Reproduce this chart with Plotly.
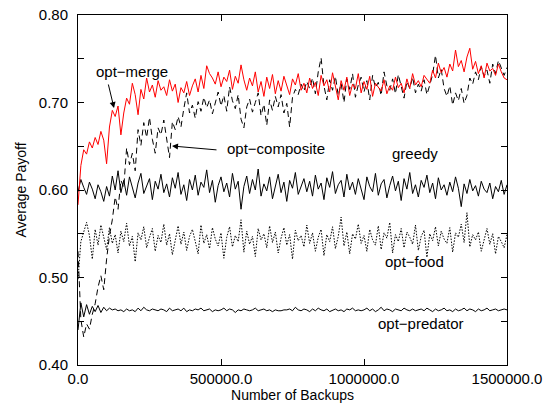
import plotly.graph_objects as go

# x positions: one sample every 10000 backups
backups = list(range(0, 1500001, 10000))

opt_merge = [
    0.583, 0.628, 0.646, 0.641, 0.655, 0.648, 0.660, 0.652, 0.667, 0.657,
    0.630, 0.672, 0.691, 0.684, 0.696, 0.663, 0.688, 0.705, 0.698, 0.722,
    0.709, 0.686, 0.715, 0.704, 0.728, 0.712, 0.720, 0.706, 0.725, 0.714,
    0.718, 0.708, 0.726, 0.713, 0.721, 0.700, 0.717, 0.711, 0.724, 0.708,
    0.719, 0.727, 0.712, 0.731, 0.716, 0.742, 0.733, 0.728, 0.721, 0.735,
    0.718, 0.729, 0.724, 0.737, 0.715, 0.730, 0.722, 0.743, 0.726, 0.714,
    0.728, 0.719, 0.735, 0.712, 0.724, 0.707, 0.729, 0.716, 0.732, 0.710,
    0.725, 0.713, 0.730, 0.718, 0.709, 0.727, 0.720, 0.733, 0.714, 0.722,
    0.711, 0.728, 0.716, 0.723, 0.708, 0.731, 0.719, 0.726, 0.712, 0.734,
    0.717, 0.703, 0.725, 0.714, 0.729, 0.708, 0.721, 0.716, 0.733, 0.711,
    0.724, 0.715, 0.730, 0.707, 0.722, 0.718, 0.713, 0.726, 0.710, 0.719,
    0.714, 0.729, 0.717, 0.722, 0.711, 0.727, 0.716, 0.733, 0.720, 0.725,
    0.718, 0.731, 0.726, 0.722, 0.737, 0.728, 0.745, 0.734, 0.740, 0.729,
    0.744, 0.736, 0.760, 0.741, 0.748, 0.735, 0.752, 0.762, 0.738, 0.747,
    0.733, 0.742, 0.728, 0.745, 0.736, 0.739, 0.731, 0.744, 0.735, 0.728,
    0.726,
]

opt_composite = [
    0.530, 0.452, 0.432, 0.447, 0.441, 0.458, 0.470, 0.489, 0.502, 0.486,
    0.521, 0.548, 0.566, 0.592, 0.578, 0.611, 0.603, 0.648, 0.629, 0.642,
    0.622, 0.669, 0.651, 0.677, 0.660, 0.683, 0.658, 0.642, 0.671, 0.663,
    0.680, 0.657, 0.637, 0.678, 0.669, 0.684, 0.672, 0.693, 0.711, 0.688,
    0.697, 0.682, 0.701, 0.690, 0.706, 0.694, 0.703, 0.687, 0.699, 0.712,
    0.696, 0.708, 0.690, 0.718, 0.702, 0.693, 0.709, 0.681, 0.671, 0.695,
    0.704, 0.689, 0.700, 0.711, 0.685, 0.698, 0.674, 0.703, 0.691, 0.707,
    0.695, 0.709, 0.688, 0.699, 0.672, 0.706, 0.715, 0.709, 0.721, 0.713,
    0.724, 0.716, 0.728, 0.710, 0.735, 0.751, 0.719, 0.703, 0.726, 0.714,
    0.730, 0.708, 0.722, 0.700, 0.727, 0.715, 0.733, 0.706, 0.720, 0.729,
    0.712, 0.725, 0.703, 0.731, 0.717, 0.723, 0.708, 0.735, 0.719, 0.714,
    0.727, 0.710, 0.732, 0.718, 0.705, 0.724, 0.716, 0.729, 0.711, 0.721,
    0.713, 0.726, 0.709, 0.720, 0.732, 0.754, 0.728, 0.738, 0.716, 0.707,
    0.719, 0.697, 0.711, 0.702, 0.716, 0.699, 0.708, 0.728, 0.721, 0.735,
    0.726, 0.741, 0.730, 0.737, 0.722, 0.744, 0.733, 0.748, 0.739, 0.731,
    0.740,
]

greedy = [
    0.598, 0.612, 0.603, 0.595, 0.609, 0.601, 0.590, 0.606, 0.598, 0.587,
    0.604, 0.593, 0.616, 0.600, 0.622, 0.597, 0.611, 0.594, 0.615, 0.603,
    0.591, 0.608, 0.619, 0.596, 0.605, 0.613, 0.589, 0.610, 0.601, 0.618,
    0.597, 0.607, 0.592, 0.614, 0.602, 0.620, 0.595, 0.606, 0.588, 0.612,
    0.600, 0.617, 0.594, 0.609, 0.603, 0.623, 0.597, 0.611, 0.586, 0.605,
    0.615, 0.598, 0.608, 0.592, 0.619, 0.601, 0.610, 0.578, 0.604, 0.616,
    0.596, 0.612, 0.600, 0.624, 0.593, 0.607, 0.599, 0.615, 0.590, 0.606,
    0.618, 0.597, 0.609, 0.587, 0.611, 0.602, 0.620, 0.595, 0.605, 0.613,
    0.598, 0.610, 0.593, 0.617, 0.601, 0.608, 0.589, 0.614, 0.603, 0.621,
    0.596, 0.606, 0.611, 0.592, 0.618, 0.600, 0.609, 0.595, 0.613, 0.602,
    0.589, 0.615, 0.604, 0.598, 0.619, 0.594, 0.607, 0.612, 0.591, 0.605,
    0.616, 0.599, 0.610, 0.588, 0.613, 0.601, 0.620, 0.596, 0.606, 0.592,
    0.611, 0.603, 0.617, 0.597, 0.608, 0.590, 0.614, 0.600, 0.606, 0.594,
    0.609, 0.598, 0.615, 0.602, 0.581, 0.607, 0.596, 0.612, 0.599, 0.605,
    0.593, 0.610, 0.601, 0.597, 0.608, 0.590, 0.604, 0.598, 0.611, 0.595,
    0.606,
]

opt_food = [
    0.498, 0.541, 0.552, 0.563, 0.548, 0.521, 0.555, 0.537, 0.560, 0.544,
    0.532, 0.557, 0.539, 0.549, 0.528, 0.553, 0.541, 0.562, 0.536, 0.547,
    0.518, 0.551, 0.543, 0.558, 0.534, 0.546, 0.556, 0.530, 0.548, 0.540,
    0.561, 0.537, 0.550, 0.526, 0.545, 0.559, 0.538, 0.552, 0.531, 0.547,
    0.555, 0.542, 0.527, 0.560, 0.539, 0.549, 0.533, 0.557, 0.544, 0.536,
    0.551, 0.522, 0.546, 0.558, 0.535, 0.548, 0.541, 0.566, 0.529, 0.553,
    0.538, 0.547, 0.524, 0.556, 0.543, 0.550, 0.534, 0.559, 0.540, 0.552,
    0.528, 0.545, 0.557, 0.537, 0.549, 0.521, 0.554, 0.542, 0.548, 0.535,
    0.560, 0.539, 0.551, 0.530, 0.546, 0.555, 0.525, 0.549, 0.541, 0.558,
    0.533, 0.547, 0.569, 0.536, 0.552, 0.527, 0.550, 0.544, 0.561, 0.539,
    0.548, 0.530, 0.555, 0.543, 0.537, 0.559, 0.532, 0.551, 0.545, 0.563,
    0.528, 0.549, 0.541, 0.556, 0.534, 0.552, 0.546, 0.538, 0.560, 0.531,
    0.547, 0.554, 0.523, 0.550, 0.542, 0.558, 0.536, 0.553, 0.544, 0.539,
    0.557, 0.529, 0.551, 0.546, 0.561, 0.540, 0.574, 0.535, 0.549, 0.543,
    0.552, 0.530, 0.545, 0.556, 0.538, 0.550, 0.527, 0.547, 0.541, 0.534,
    0.549,
]

opt_predator = [
    0.440, 0.471, 0.455, 0.469, 0.458, 0.467, 0.461, 0.468, 0.460, 0.466,
    0.462, 0.465, 0.463, 0.464, 0.462, 0.463, 0.461, 0.464, 0.462, 0.463,
    0.461, 0.465, 0.462, 0.466, 0.463, 0.462, 0.464, 0.463, 0.462, 0.464,
    0.463, 0.461, 0.465, 0.462, 0.463, 0.464, 0.462, 0.465, 0.461, 0.463,
    0.462, 0.464, 0.463, 0.465, 0.462, 0.463, 0.464, 0.461, 0.463, 0.462,
    0.463, 0.465, 0.462, 0.464, 0.463, 0.460, 0.463, 0.462, 0.464, 0.463,
    0.462, 0.463, 0.465, 0.462, 0.463, 0.464, 0.462, 0.463, 0.461, 0.463,
    0.462, 0.462, 0.463, 0.463, 0.464, 0.462, 0.466, 0.463, 0.462, 0.464,
    0.463, 0.461, 0.464, 0.462, 0.465, 0.463, 0.462, 0.464, 0.461, 0.463,
    0.464, 0.462, 0.463, 0.461, 0.464, 0.463, 0.465, 0.462, 0.463, 0.462,
    0.463, 0.465, 0.462, 0.464, 0.461, 0.463, 0.466, 0.462, 0.464, 0.463,
    0.461, 0.464, 0.463, 0.462, 0.465, 0.463, 0.462, 0.464, 0.462, 0.463,
    0.464, 0.462, 0.465, 0.463, 0.461, 0.464, 0.462, 0.463, 0.465, 0.462,
    0.463, 0.461, 0.464, 0.462, 0.463, 0.465, 0.462, 0.464, 0.463, 0.461,
    0.464, 0.462, 0.463, 0.465, 0.462, 0.463, 0.464, 0.462, 0.463, 0.464,
    0.463,
]

x_ticks = [0, 500000, 1000000, 1500000]
x_tick_text = ["0.0", "500000.0", "1000000.0", "1500000.0"]

FONT = "Liberation Sans, Arial, Helvetica, sans-serif"

fig = go.Figure()
fig.add_trace(go.Scatter(x=backups, y=greedy, mode="lines", name="greedy",
                         line=dict(color="black", width=1)))
fig.add_trace(go.Scatter(x=backups, y=opt_food, mode="lines", name="opt-food",
                         line=dict(color="black", width=1, dash="1.5px,1.5px")))
fig.add_trace(go.Scatter(x=backups, y=opt_predator, mode="lines", name="opt-predator",
                         line=dict(color="black", width=1)))
fig.add_trace(go.Scatter(x=backups, y=opt_composite, mode="lines", name="opt-composite",
                         line=dict(color="black", width=1, dash="6px,4px")))
fig.add_trace(go.Scatter(x=backups, y=opt_merge, mode="lines", name="opt-merge",
                         line=dict(color="red", width=1)))

# curve labels
labels = [
    ("opt−merge", 188800, 0.736),
    ("opt−composite", 692300, 0.648),
    ("greedy", 1180000, 0.642),
    ("opt−food", 1175000, 0.518),
    ("opt−predator", 1198000, 0.447),
]
for txt, lx, ly in labels:
    fig.add_annotation(x=lx, y=ly, text=txt, showarrow=False,
                       xanchor="center", yanchor="middle",
                       font=dict(family=FONT, size=15, color="black"))

# arrows pointing to curves
arrows = [
    (125900, 0.6937, 104900, 0.7223),
    (328700, 0.6503, 489500, 0.6457),
]
for tx, ty, sx, sy in arrows:
    fig.add_annotation(x=tx, y=ty, ax=sx, ay=sy, axref="x", ayref="y",
                       text="", showarrow=True, arrowhead=2, arrowsize=1.2,
                       arrowwidth=1, arrowcolor="black")

fig.update_layout(
    width=545, height=406,
    margin=dict(l=78, r=38, t=15, b=41),
    paper_bgcolor="white", plot_bgcolor="white",
    showlegend=False,
    font=dict(family=FONT, size=15, color="black"),
)
fig.update_xaxes(
    range=[0, 1500000], tickvals=x_ticks, ticktext=x_tick_text,
    ticks="inside", ticklen=6, tickcolor="black",
    showline=True, linecolor="black", linewidth=1, mirror="ticks",
    showgrid=False, zeroline=False, automargin=False,
    title=dict(text="Number of Backups", font=dict(size=14), standoff=4),
)
fig.update_yaxes(
    range=[0.4, 0.8], tick0=0.4, dtick=0.1, tickformat=".2f",
    ticks="inside", ticklen=6, tickcolor="black",
    minor=dict(dtick=0.05, tick0=0.4, ticks="inside", ticklen=6, tickcolor="black"),
    showline=True, linecolor="black", linewidth=1, mirror="ticks",
    showgrid=False, zeroline=False, automargin=False, ticklabelstandoff=6,
    title=dict(text="Average Payoff", font=dict(size=14), standoff=8),
)

# drop the browser's default body margin so the figure sits at the page corner
fig.write_html("out.html", config={"displayModeBar": False},
               post_script="document.body.style.margin='0';")
